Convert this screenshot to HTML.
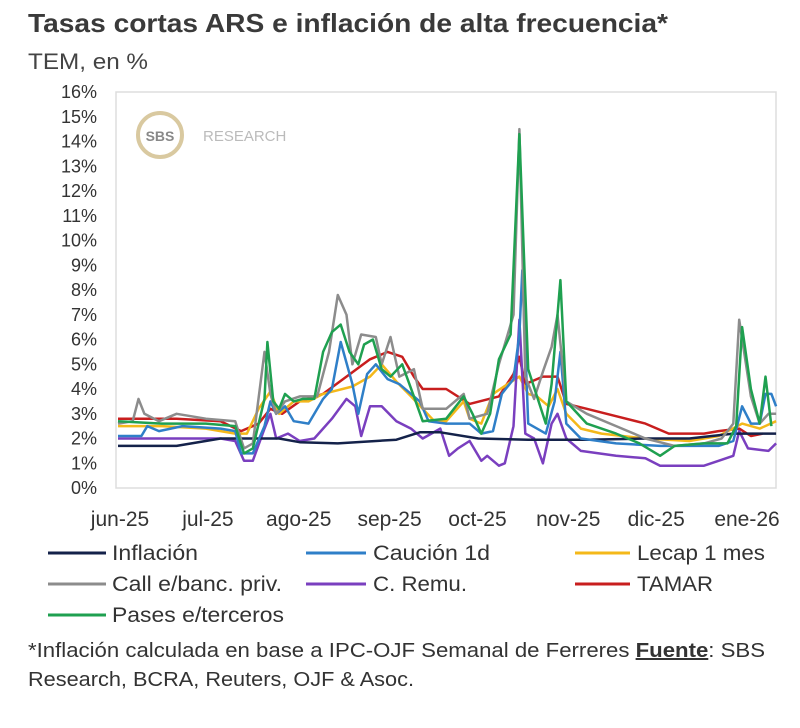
<!DOCTYPE html>
<html><head><meta charset="utf-8"><style>
body{margin:0;background:#fff;width:800px;height:723px;overflow:hidden;font-family:"Liberation Sans",sans-serif;color:#333}
</style></head><body>
<svg width="800" height="723" id="svg">
<text x="28" y="32" font-size="26" font-weight="bold" fill="#3a3a3a" textLength="640" lengthAdjust="spacingAndGlyphs">Tasas cortas ARS e inflación de alta frecuencia*</text>
<text x="28" y="69" font-size="22" fill="#444" textLength="120" lengthAdjust="spacingAndGlyphs">TEM, en %</text>
<rect x="116" y="92" width="660" height="396" fill="none" stroke="#ddd" stroke-width="1.5"/>
<g>
<circle cx="160" cy="135" r="22" fill="none" stroke="#d9c9a0" stroke-width="4"/>
<text x="160" y="141" font-size="14" font-weight="bold" fill="#888" text-anchor="middle">SBS</text>
<text x="203" y="141" font-size="15" fill="#bbb">RESEARCH</text>
</g>
<g id="yticks"></g><g id="xticks"></g><g id="lines"></g>
<g font-size="21" fill="#333">
<g><line x1="48" y1="553" x2="106" y2="553" stroke="#14224a" stroke-width="3"/><text x="112" y="560" textLength="86" lengthAdjust="spacingAndGlyphs">Inflación</text></g>
<g><line x1="306" y1="553" x2="366" y2="553" stroke="#2f7fc8" stroke-width="3"/><text x="373" y="560" textLength="117" lengthAdjust="spacingAndGlyphs">Caución 1d</text></g>
<g><line x1="575" y1="553" x2="630" y2="553" stroke="#f4b81a" stroke-width="3"/><text x="637" y="560" textLength="128" lengthAdjust="spacingAndGlyphs">Lecap 1 mes</text></g>
<g><line x1="48" y1="584" x2="106" y2="584" stroke="#8c8c8c" stroke-width="3"/><text x="112" y="591" textLength="170" lengthAdjust="spacingAndGlyphs">Call e/banc. priv.</text></g>
<g><line x1="306" y1="584" x2="366" y2="584" stroke="#7a3fbf" stroke-width="3"/><text x="373" y="591" textLength="94" lengthAdjust="spacingAndGlyphs">C. Remu.</text></g>
<g><line x1="575" y1="584" x2="630" y2="584" stroke="#c81e1e" stroke-width="3"/><text x="637" y="591" textLength="76" lengthAdjust="spacingAndGlyphs">TAMAR</text></g>
<g><line x1="48" y1="615" x2="106" y2="615" stroke="#1fa050" stroke-width="3"/><text x="112" y="622" textLength="172" lengthAdjust="spacingAndGlyphs">Pases e/terceros</text></g>
</g>
<g font-size="20" fill="#333">
<text x="28" y="657" textLength="737" lengthAdjust="spacingAndGlyphs">*Inflación calculada en base a IPC-OJF Semanal de Ferreres <tspan font-weight="bold" text-decoration="underline">Fuente</tspan>: SBS</text>
<text x="28" y="686" textLength="386" lengthAdjust="spacingAndGlyphs">Research, BCRA, Reuters, OJF &amp; Asoc.</text>
</g>
</svg>
<script>
const yTicks=[0,1,2,3,4,5,6,7,8,9,10,11,12,13,14,15,16];
const xLabels=["jun-25","jul-25","ago-25","sep-25","oct-25","nov-25","dic-25","ene-26"];
const xLabelDays=[0,30,61,92,122,153,183,214];
const inflDays=[0,20,35,55,62,75,95,103,110,123,140,160,180,195,210,224.6];
const inflVals=[1.7,1.7,2.0,2.0,1.85,1.8,1.95,2.25,2.25,2.0,1.95,1.95,2.0,2.0,2.2,2.2];
const caucDays=[0,8,10,14,22,35,40,42,46,50,52,54,57,60,65,70,73,76,80,82,85,88,92,96,103,106,112,120,124,128,131,135,137,138,140,143,146,149,151,153,158,170,185,205,210,213,216,219,221,223,224.6];
const caucVals=[2.1,2.1,2.5,2.3,2.5,2.4,2.3,1.4,1.4,2.5,3.5,3.0,3.3,2.7,2.6,3.6,4.0,5.9,4.2,3.0,4.6,5.0,4.4,4.2,3.5,2.7,2.6,2.6,2.2,2.3,3.8,4.4,6.2,8.8,2.6,2.4,2.2,3.5,5.5,2.6,2.0,1.8,1.7,1.7,1.9,3.3,2.6,2.6,3.8,3.8,3.3];
const lecapDays=[0,15,30,40,44,48,52,55,60,65,70,80,86,90,95,100,104,108,112,118,120,124,128,133,137,140,143,147,150,153,158,165,180,195,205,213,219,224.6];
const lecapVals=[2.5,2.5,2.4,2.2,2.2,3.2,3.9,3.0,3.5,3.5,3.8,4.1,4.5,5.0,4.3,3.7,3.2,2.7,2.7,3.5,2.8,2.6,3.8,4.2,4.5,3.8,3.7,3.3,4.0,3.0,2.4,2.2,2.0,1.9,2.1,2.6,2.4,2.7];
const callDays=[0,5,7,9,14,20,30,40,43,46,50,52,54,57,62,68,72,75,78,80,83,88,90,93,96,101,104,112,118,120,126,130,135,137,139,142,145,148,150,153,160,170,180,190,200,206,210,212,216,219,222,224.6];
const callVals=[2.6,2.7,3.6,3.0,2.7,3.0,2.8,2.7,1.6,1.8,5.5,3.8,3.0,3.5,3.7,3.7,5.5,7.8,7.0,5.0,6.2,6.1,5.0,6.1,4.5,4.8,3.2,3.2,3.8,2.8,3.0,5.0,7.0,14.5,4.5,3.6,4.7,5.7,7.0,3.5,3.0,2.5,2.0,1.7,1.8,2.0,2.6,6.8,3.7,2.6,3.0,3.0];
const remuDays=[0,35,40,43,46,50,52,54,58,62,67,73,78,81,83,86,90,95,100,104,110,113,116,120,124,126,130,132,135,137,139,142,145,148,150,153,158,170,180,185,200,205,210,212,215,222,224.6];
const remuVals=[2.0,2.0,1.9,1.1,1.1,2.4,3.0,2.0,2.2,1.9,2.0,2.8,3.6,3.3,2.1,3.3,3.3,2.7,2.4,2.0,2.4,1.3,1.6,1.9,1.1,1.3,0.9,1.0,2.5,6.8,2.2,2.0,1.0,2.6,3.0,2.0,1.5,1.3,1.2,0.9,0.9,1.1,1.3,2.3,1.6,1.5,1.8];
const tamarDays=[0,20,35,42,48,52,56,62,70,78,86,92,97,101,104,112,120,130,135,137,139,145,150,153,160,170,180,188,200,205,212,216,220];
const tamarVals=[2.8,2.8,2.7,2.3,2.6,3.2,3.0,3.5,3.8,4.5,5.2,5.5,5.3,4.5,4.0,4.0,3.4,3.7,4.6,5.3,4.2,4.5,4.5,3.4,3.2,2.9,2.6,2.2,2.2,2.3,2.4,2.1,2.2];
const pasesDays=[0,15,30,40,43,46,50,51,53,55,57,60,63,67,70,73,76,79,82,84,87,90,93,97,101,104,112,118,121,124,127,130,134,137,140,143,146,148,150,151,153,160,170,178,185,190,200,208,211,213,216,219,221,223];
const pasesVals=[2.7,2.6,2.6,2.5,1.4,1.6,3.6,5.9,3.5,3.2,3.8,3.5,3.6,3.6,5.5,6.3,6.6,5.5,5.0,5.8,6.0,4.8,4.5,5.0,3.7,2.7,2.8,3.7,3.0,2.2,3.0,5.2,6.2,14.3,4.8,3.7,2.6,4.2,7.0,8.4,3.5,2.6,2.2,1.8,1.3,1.7,1.8,1.8,2.5,6.5,4.0,2.6,4.5,2.5];
const series=[
 ["line-tamar",tamarDays,tamarVals,"#c81e1e"],
 ["line-lecap",lecapDays,lecapVals,"#f4b81a"],
 ["line-remu",remuDays,remuVals,"#7a3fbf"],
 ["line-inflacion",inflDays,inflVals,"#14224a"],
 ["line-caucion",caucDays,caucVals,"#2f7fc8"],
 ["line-call",callDays,callVals,"#8c8c8c"],
 ["line-pases",pasesDays,pasesVals,"#1fa050"]];
const NS="http://www.w3.org/2000/svg";
const xS=d=>118+d*2.93;
const yS=v=>488-v*24.75;
const yg=document.getElementById('yticks');
yTicks.forEach(t=>{const e=document.createElementNS(NS,'text');


e.setAttribute('x',97);e.setAttribute('y',yS(t)+6);e.setAttribute('text-anchor','end');e.setAttribute('font-size','18');e.setAttribute('fill','#333');e.textContent=t+'%';yg.appendChild(e);});
const xg=document.getElementById('xticks');
xLabels.forEach((l,i)=>{const e=document.createElementNS(NS,'text');


e.setAttribute('x',xS(xLabelDays[i])+2);e.setAttribute('y',526);e.setAttribute('text-anchor','middle');e.setAttribute('font-size','21');e.setAttribute('fill','#333');e.textContent=l;xg.appendChild(e);});
const lg=document.getElementById('lines');
series.forEach(s=>{const p=document.createElementNS(NS,'polyline');


p.setAttribute('points',s[1].map((d,i)=>xS(d).toFixed(1)+','+yS(s[2][i]).toFixed(1)).join(' '));
p.setAttribute('fill','none');p.setAttribute('stroke',s[3]);p.setAttribute('stroke-width','2.5');p.setAttribute('stroke-linejoin','round');lg.appendChild(p);});
</script>
</body></html>
